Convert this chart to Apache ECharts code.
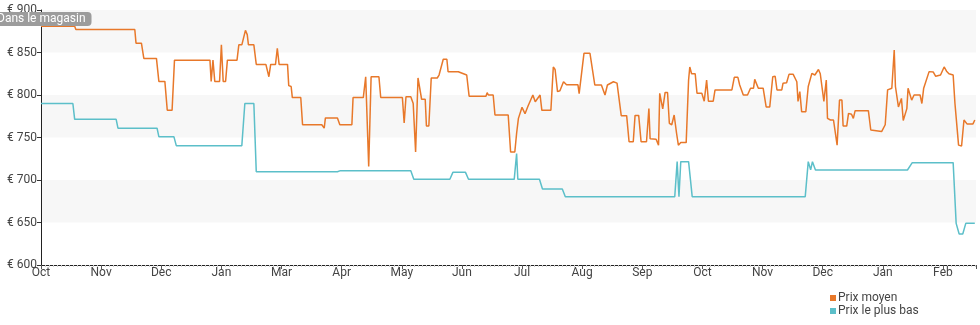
<!DOCTYPE html>
<html><head><meta charset="utf-8">
<script src="https://cdn.jsdelivr.net/npm/echarts@6/dist/echarts.min.js"></script>
<style>html,body{margin:0;padding:0;background:#fff}#c{width:980px;height:325px}</style>
</head><body><div id="c"></div>
<script>
const monthLabels = ['Oct','Nov','Dec','Jan','Mar','Apr','May','Jun','Jul','Aug','Sep','Oct','Nov','Dec','Jan','Feb'];
const yTicks = [600, 650, 700, 750, 800, 850, 900];
const seriesNames = ['Prix moyen', 'Prix le plus bas'];
// [month index, price €]
const avgPrice = [
[0,881],[0.56,881],[0.58,877],[1.56,877],[1.58,861],[1.67,861],[1.71,843],[1.92,843],[1.96,816],[2.06,816],
[2.10,782],[2.18,782],[2.22,841],[2.81,841],[2.83,816],[2.86,841],[2.89,816],[2.97,816],[3.00,859],[3.03,816],
[3.07,816],[3.10,841],[3.26,841],[3.29,859],[3.34,859],[3.40,876],[3.43,871],[3.45,859],[3.54,859],[3.58,836],
[3.74,836],[3.79,821.5],[3.82,836],[3.90,836],[3.93,855],[3.96,836],[4.10,836],[4.12,811],[4.16,810],[4.18,797],
[4.32,797],[4.35,765],[4.67,765],[4.71,761],[4.73,773],[4.93,773],[4.97,765],[5.17,765],[5.19,797],[5.36,797],
[5.40,821.5],[5.43,821.5],[5.45,716],[5.49,821.5],[5.62,821.5],[5.65,797],[6.01,797],[6.04,767],[6.07,798],[6.15,798],
[6.19,790],[6.23,733],[6.27,820],[6.30,818],[6.33,795],[6.39,795],[6.41,763.5],[6.45,763.5],[6.49,820],[6.59,820],
[6.62,823.5],[6.65,825],[6.69,842],[6.75,842],[6.77,827.4],[6.83,827.4],[6.86,828],[6.94,827.4],[6.97,825.5],[7.08,823.5],
[7.12,798.6],[7.40,798.6],[7.42,802.7],[7.44,800],[7.52,800],[7.55,776.5],[7.77,776.5],[7.81,733],[7.88,733],[7.91,755],
[7.94,772.5],[8.00,785.5],[8.05,778],[8.10,787],[8.13,788],[8.18,800],[8.22,792],[8.25,792],[8.30,800],[8.33,782],
[8.48,782],[8.52,833],[8.55,830],[8.59,804],[8.63,805],[8.69,815.6],[8.74,812],[8.93,812],[8.95,801.6],[9.03,849],
[9.13,849],[9.21,811.8],[9.32,811.8],[9.38,800],[9.42,811.8],[9.52,815.6],[9.58,814],[9.65,775.7],[9.74,775.7],[9.78,745],
[9.85,745],[9.88,776],[9.94,776],[9.98,745],[10.07,745],[10.11,784],[10.13,748.6],[10.23,748],[10.27,741],[10.29,802],
[10.34,783.6],[10.38,803],[10.42,803],[10.45,766.7],[10.49,765],[10.53,776.5],[10.57,755],[10.60,741],[10.64,744],[10.73,744],
[10.77,817.6],[10.79,833],[10.82,825],[10.88,825],[10.91,802],[10.99,802],[11.03,792.7],[11.07,817.6],[11.10,792.7],[11.18,792.7],
[11.21,806],[11.49,806],[11.53,820.8],[11.59,820.8],[11.62,811.8],[11.68,800],[11.75,800],[11.80,808],[11.85,808],[11.87,818.4],
[11.90,818.4],[11.93,808],[12.01,808],[12.06,786],[12.12,786],[12.17,821.5],[12.21,822],[12.24,806],[12.32,806],[12.34,813.7],
[12.40,814.5],[12.44,824.3],[12.51,824.3],[12.57,815.6],[12.59,792.5],[12.62,804],[12.65,780.4],[12.72,780.4],[12.76,810],[12.82,825.5],
[12.87,823.5],[12.93,830],[12.96,825],[12.98,823.5],[13.02,792.5],[13.06,817.6],[13.08,772.5],[13.13,770.6],[13.18,770.6],[13.20,769],
[13.24,741],[13.28,794],[13.32,794],[13.34,763.5],[13.40,763.5],[13.43,778.4],[13.48,777.4],[13.51,772.5],[13.54,781.6],[13.76,781.6],
[13.80,758.8],[13.98,757],[14.04,765],[14.08,806],[14.15,808],[14.19,853],[14.21,810],[14.26,786],[14.31,796],[14.34,770],
[14.40,784],[14.42,808],[14.45,808],[14.48,794],[14.52,800],[14.62,800],[14.65,790],[14.68,808],[14.70,806],[14.77,827.5],
[14.84,827],[14.88,822],[14.96,823.5],[15.02,833],[15.06,828],[15.10,825],[15.17,823.5],[15.20,790],[15.26,741],[15.31,740],
[15.35,770.6],[15.40,766],[15.50,766],[15.53,770.6]
];
const lowPrice = [
[0,790],[0.53,790],[0.56,771.4],[1.25,771.4],[1.28,761],[1.93,761],[1.96,751],[2.21,751],[2.25,740.4],[3.34,740.4],
[3.39,790],[3.54,790],[3.58,709.8],[4.93,709.8],[4.98,711],[6.15,711],[6.20,700.8],[6.80,700.8],[6.85,709],[7.06,709],
[7.11,700.8],[7.87,700.8],[7.91,731],[7.93,700.8],[8.29,700.8],[8.34,689.4],[8.67,689.4],[8.72,680.4],[10.54,680.4],[10.58,721.6],
[10.61,680.4],[10.64,721.6],[10.77,721.6],[10.83,680.4],[12.71,680.4],[12.76,721.6],[12.80,712],[12.83,721.6],[12.88,711.8],[14.41,711.8],
[14.49,720.4],[15.17,720.4],[15.22,649],[15.27,636.5],[15.33,636.5],[15.38,649],[15.53,649]
];

const chart = echarts.init(document.getElementById('c'), null, {renderer:'canvas'});
const font = 'Roboto, "Noto Sans", sans-serif';
chart.setOption({
  animation: false,
  textStyle: {fontFamily: font},
  title: {
    text: 'Dans le magasin', left: -7, top: 12,
    backgroundColor: '#9c9c9c', borderRadius: 4, padding: [1, 6, 1, 4],
    textStyle: {color: '#fff', fontSize: 12, fontWeight: 'normal', fontFamily: font}
  },
  legend: {
    orient: 'vertical', left: 830, top: 292, padding: 0, itemWidth: 6, itemHeight: 6, itemGap: 1,
    icon: 'rect',
    data: seriesNames,
    textStyle: {fontSize: 12, color: '#444', fontFamily: font, padding: [0,0,0,-3]}
  },
  grid: {left: 41, right: 4, top: 10, bottom: 60, containLabel: false},
  xAxis: {
    type: 'value', min: 0, max: 15.55, interval: 1,
    axisLine: {lineStyle: {color: '#222', width: 1}},
    axisTick: {show: true, length: 4, inside: false, lineStyle: {color: '#555'}},
    minorTick: {show: true, splitNumber: 15, length: 2, lineStyle: {color: '#ccc'}},
    axisLabel: {
      color: '#444', fontSize: 12, margin: 2, showMaxLabel: false,
      formatter: v => Number.isInteger(v) ? (monthLabels[v] || '') : ''
    },
    splitLine: {show: false}
  },
  yAxis: {
    type: 'value', min: yTicks[0], max: yTicks[yTicks.length-1], interval: 50,
    axisLine: {show: true, lineStyle: {color: '#222', width: 1}},
    axisTick: {show: true, length: 4, lineStyle: {color: '#333'}},
    axisLabel: {color: '#444', fontSize: 12, margin: 4, formatter: '€ {value}'},
    splitLine: {show: false},
    splitArea: {show: true, areaStyle: {color: ['#ffffff', '#f7f7f7']}}
  },
  series: [
    {name: seriesNames[0], type: 'line', data: avgPrice, showSymbol: false, symbol: 'rect',
     lineStyle: {color: '#e8782a', width: 1.5}, itemStyle: {color: '#e8782a'}},
    {name: seriesNames[1], type: 'line', data: lowPrice, showSymbol: false, symbol: 'rect',
     lineStyle: {color: '#5cbfc9', width: 1.5}, itemStyle: {color: '#5cbfc9'}}
  ]
});
</script></body></html>
